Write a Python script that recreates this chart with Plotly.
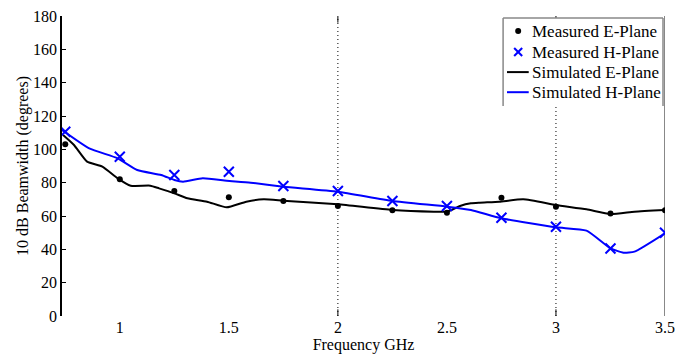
import plotly.graph_objects as go

# Measured frequencies (GHz)
freq_meas = [0.75, 1.0, 1.25, 1.5, 1.75, 2.0, 2.25, 2.5, 2.75, 3.0, 3.25, 3.5]
meas_e = [103, 82, 75, 71.2, 69, 66, 63.5, 62, 71, 65.5, 61.5, 63.5]
meas_h = [110.6, 95.6, 84.6, 86.6, 78, 75, 69, 66, 59, 53.5, 40.5, 50]

# Simulated E-plane
freq_sim_e = [0.74, 0.79, 0.85, 0.92, 0.99, 1.05, 1.14, 1.18, 1.25, 1.31, 1.4, 1.49,
              1.58, 1.66, 1.75, 2.0, 2.25, 2.44, 2.5, 2.56, 2.61, 2.65, 2.74, 2.85,
              3.0, 3.14, 3.25, 3.36, 3.5]
sim_e = [108.6, 102.6, 92.6, 89.6, 82.6, 78.2, 78.2, 76.6, 73.6, 70.6, 68.6, 65.2,
         68.6, 70, 69.2, 67, 63.6, 62.6, 62.6, 66, 67.6, 68, 68.6, 70,
         66.6, 64, 61.2, 62.6, 63.6]

# Simulated H-plane
freq_sim_h = [0.735, 0.86, 0.99, 1.08, 1.19, 1.25, 1.29, 1.38, 1.49, 1.6, 1.75, 2.0,
              2.25, 2.5, 2.61, 2.75, 3.0, 3.14, 3.25, 3.31, 3.36, 3.5]
sim_h = [111.6, 100.6, 94.6, 87.6, 84.6, 81.6, 80.6, 82.6, 81.2, 80, 77.6, 74.6,
         69, 65.6, 63.6, 58.6, 53.2, 51.2, 40.6, 38, 38.6, 49.6]

series_names = ["Measured E-Plane", "Measured H-Plane", "Simulated E-Plane", "Simulated H-Plane"]

x_ticks = [1, 1.5, 2, 2.5, 3, 3.5]
x_tick_text = ["1", "1.5", "2", "2.5", "3", "3.5"]
y_ticks = [0, 20, 40, 60, 80, 100, 120, 140, 160, 180]

font_family = "Liberation Serif, Times New Roman, serif"

fig = go.Figure()
fig.add_trace(go.Scatter(x=freq_sim_e, y=sim_e, mode="lines", name=series_names[2],
                         line=dict(color="black", width=2, shape="spline", smoothing=0.5)))
fig.add_trace(go.Scatter(x=freq_sim_h, y=sim_h, mode="lines", name=series_names[3],
                         line=dict(color="blue", width=2, shape="spline", smoothing=0.5)))
fig.add_trace(go.Scatter(x=freq_meas, y=meas_e, mode="markers", name=series_names[0],
                         marker=dict(symbol="circle", size=6, color="black")))
fig.add_trace(go.Scatter(x=freq_meas, y=meas_h, mode="markers", name=series_names[1],
                         marker=dict(symbol="x-thin", size=10, color="blue",
                                     line=dict(width=2, color="blue"))))

# Dotted reference lines with short solid tick ends
for xv in [2, 3]:
    fig.add_shape(type="line", xref="x", yref="y", x0=xv, x1=xv, y0=0, y1=180,
                  line=dict(color="black", width=1, dash="1px,3px"), layer="below")
    for y0, y1 in [(0, 4), (176, 180)]:
        fig.add_shape(type="line", xref="x", yref="y", x0=xv, x1=xv, y0=y0, y1=y1,
                      line=dict(color="black", width=1))
fig.add_shape(type="line", xref="x", yref="y", x0=3.5, x1=3.5, y0=0, y1=180,
              line=dict(color="#888888", width=2), layer="below")

# Legend box (open at the bottom), drawn in plot-area fractions
box_l, box_r, box_t, box_b = 0.7315, 0.9967, 0.993, 0.70
fig.add_shape(type="rect", xref="x domain", yref="y domain", x0=box_l, x1=box_r,
              y0=box_b, y1=box_t, fillcolor="white", line=dict(width=0), layer="above")
for (x0, y0, x1, y1) in [(box_l, box_b, box_l, box_t), (box_l, box_t, box_r, box_t),
                         (box_r, box_b, box_r, box_t)]:
    fig.add_shape(type="line", xref="x domain", yref="y domain", x0=x0, y0=y0, x1=x1, y1=y1,
                  line=dict(color="#888888", width=1.5), layer="above")

row_y = [0.95, 0.88, 0.813, 0.746]
sym_x = 0.7565
txt_x = 0.7755

# legend symbols, sized in pixels around an anchor point
fig.add_shape(type="circle", xref="x domain", yref="y domain",
              xsizemode="pixel", ysizemode="pixel", xanchor=sym_x, yanchor=row_y[0],
              x0=-3, x1=3, y0=-3, y1=3, fillcolor="black", line=dict(width=0), layer="above")
for (dx0, dy0, dx1, dy1) in [(-4, -4, 4, 4), (-4, 4, 4, -4)]:
    fig.add_shape(type="line", xref="x domain", yref="y domain",
                  xsizemode="pixel", ysizemode="pixel", xanchor=sym_x, yanchor=row_y[1],
                  x0=dx0, y0=dy0, x1=dx1, y1=dy1, line=dict(color="blue", width=2),
                  layer="above")
for ry, col in [(row_y[2], "black"), (row_y[3], "blue")]:
    fig.add_shape(type="line", xref="x domain", yref="y domain", x0=0.738, x1=0.774,
                  y0=ry, y1=ry, line=dict(color=col, width=2), layer="above")
for ry, name in zip(row_y, series_names):
    fig.add_annotation(xref="x domain", yref="y domain", x=txt_x, y=ry, text=name,
                       xanchor="left", yanchor="middle", showarrow=False,
                       font=dict(family=font_family, size=17, color="black"))

fig.update_layout(
    width=688, height=355,
    margin=dict(l=62, r=23, t=16, b=39),
    paper_bgcolor="white", plot_bgcolor="white",
    font=dict(family=font_family, size=16, color="black"),
    showlegend=False,
)
fig.update_xaxes(range=[0.735, 3.5], tickvals=x_ticks, ticktext=x_tick_text,
                 showgrid=False, zeroline=False, showline=False, ticks="",
                 automargin=False,
                 title=dict(text="Frequency GHz", standoff=0,
                            font=dict(family=font_family, size=16)),
                 tickfont=dict(family=font_family, size=16))
fig.update_yaxes(range=[0, 180], tickvals=y_ticks, showgrid=False, zeroline=False,
                 showline=True, linecolor="black", linewidth=1.5,
                 ticks="inside", ticklen=4, tickcolor="black",
                 automargin=False,
                 title=dict(text="10 dB Beamwidth (degrees)", standoff=0,
                            font=dict(family=font_family, size=16)),
                 tickfont=dict(family=font_family, size=16))

fig.write_html("out.html")
